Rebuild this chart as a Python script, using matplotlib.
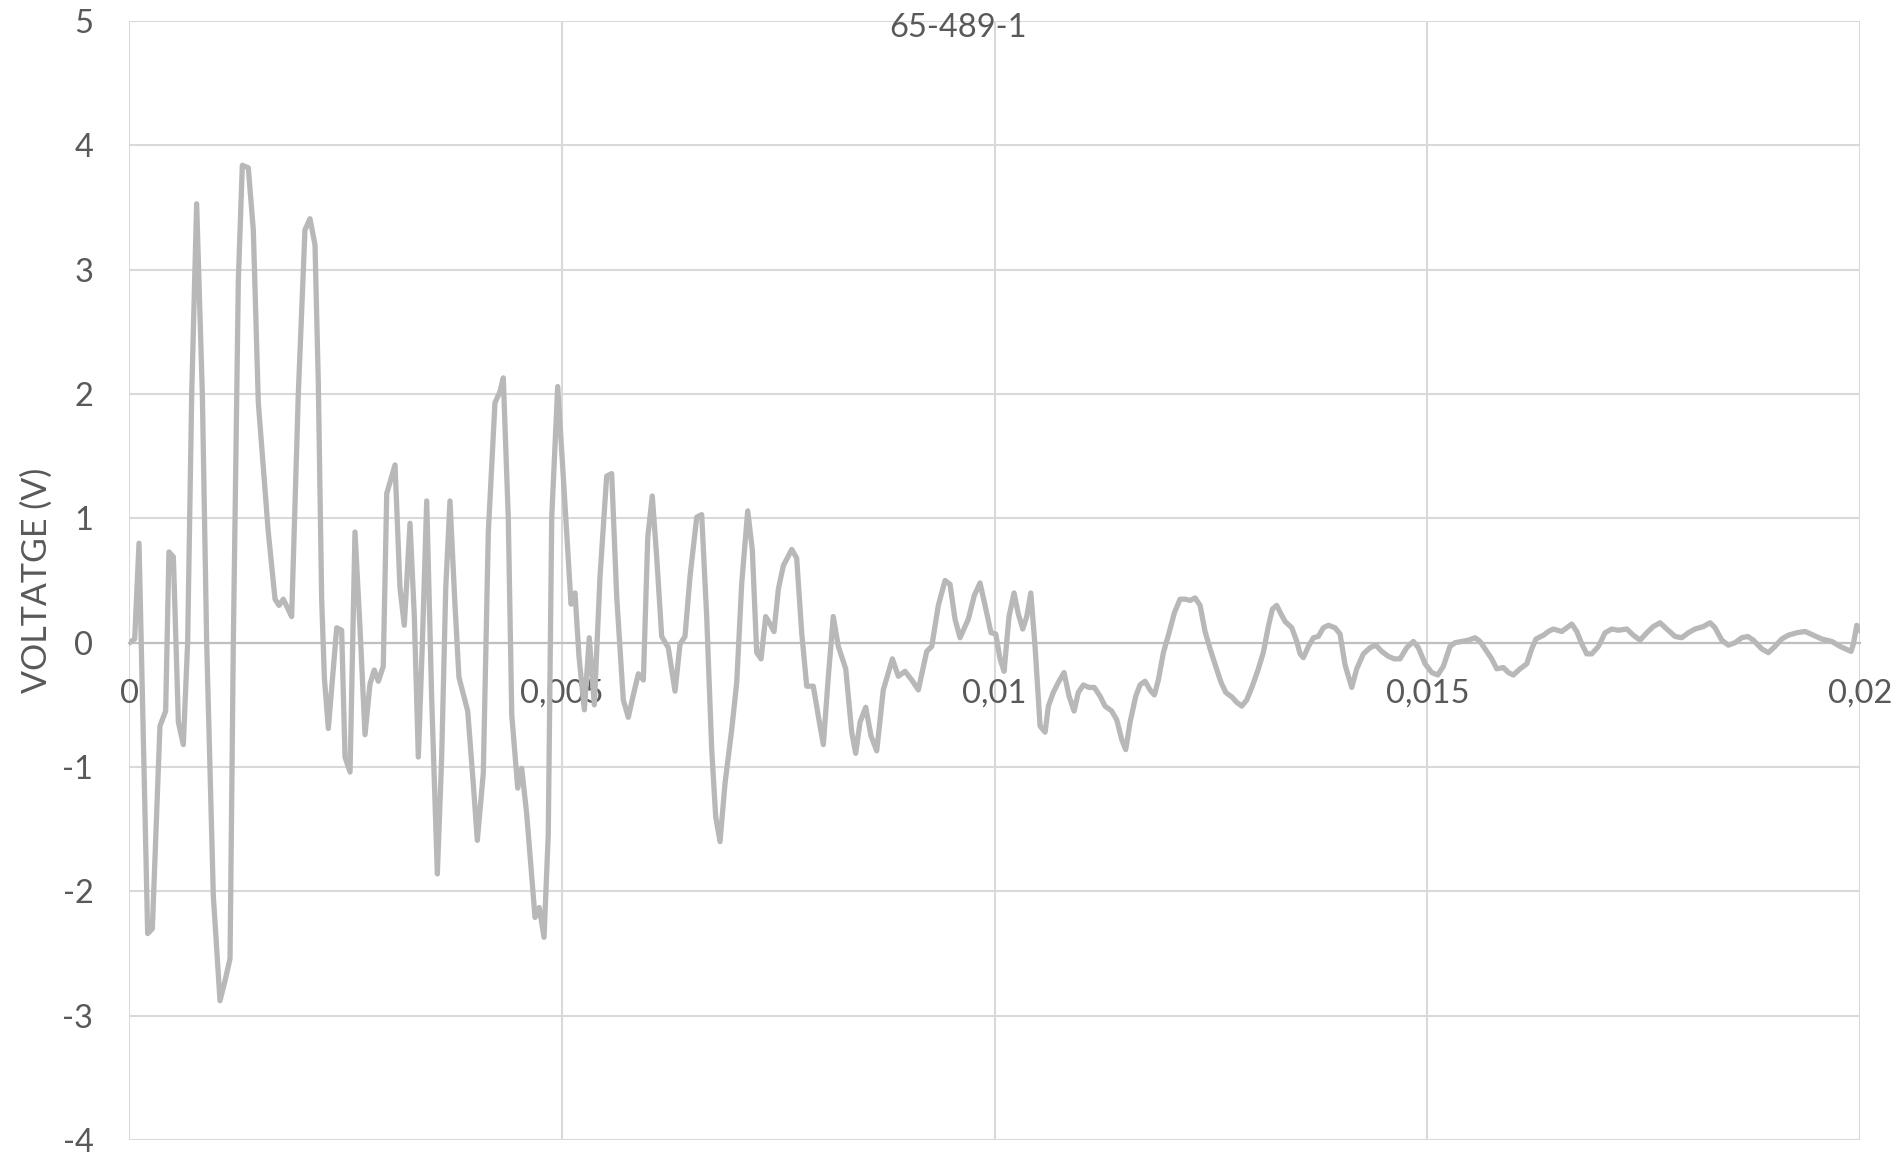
import numpy as np
import matplotlib.pyplot as plt

# tiempo en milisegundos, tension en voltios
tiempo_ms = [
    0.0, 0.06, 0.11, 0.21, 0.264, 0.352, 0.418, 0.456, 0.507, 0.565, 0.622, 0.672, 0.719, 0.776, 0.842,
    0.892, 0.969, 1.046, 1.104, 1.162, 1.2, 1.258, 1.304, 1.373, 1.431, 1.489, 1.604, 1.682, 1.728, 1.778,
    1.874, 1.951, 2.028, 2.086, 2.144, 2.182, 2.221, 2.252, 2.298, 2.395, 2.452, 2.491, 2.549, 2.606, 2.664,
    2.722, 2.78, 2.829, 2.876, 2.933, 2.973, 3.069, 3.126, 3.176, 3.242, 3.292, 3.338, 3.385, 3.435, 3.493,
    3.558, 3.608, 3.655, 3.704, 3.762, 3.808, 3.909, 3.974, 4.02, 4.089, 4.147, 4.224, 4.282, 4.32, 4.378,
    4.418, 4.487, 4.533, 4.591, 4.687, 4.736, 4.791, 4.84, 4.88, 4.949, 5.014, 5.103, 5.149, 5.195, 5.257,
    5.314, 5.372, 5.438, 5.515, 5.573, 5.631, 5.707, 5.765, 5.823, 5.881, 5.939, 5.99, 6.042, 6.093, 6.151,
    6.227, 6.305, 6.363, 6.42, 6.478, 6.556, 6.613, 6.671, 6.729, 6.775, 6.825, 6.883, 6.96, 7.018, 7.076,
    7.145, 7.198, 7.249, 7.299, 7.353, 7.403, 7.449, 7.499, 7.557, 7.654, 7.711, 7.769, 7.827, 7.903, 7.961,
    8.019, 8.077, 8.134, 8.192, 8.278, 8.347, 8.393, 8.443, 8.509, 8.57, 8.636, 8.712, 8.817, 8.886, 8.963,
    9.041, 9.117, 9.214, 9.272, 9.348, 9.426, 9.483, 9.541, 9.599, 9.695, 9.764, 9.83, 9.888, 9.957, 10.012,
    10.061, 10.108, 10.165, 10.223, 10.273, 10.324, 10.37, 10.417, 10.466, 10.524, 10.582, 10.62, 10.677,
    10.735, 10.801, 10.859, 10.917, 10.966, 11.024, 11.09, 11.151, 11.217, 11.275, 11.352, 11.41, 11.468,
    11.514, 11.564, 11.63, 11.679, 11.737, 11.795, 11.845, 11.891, 11.949, 12.015, 12.076, 12.142, 12.2,
    12.258, 12.316, 12.373, 12.431, 12.489, 12.554, 12.616, 12.67, 12.746, 12.797, 12.855, 12.913, 12.977,
    13.047, 13.104, 13.162, 13.209, 13.259, 13.309, 13.356, 13.433, 13.491, 13.529, 13.567, 13.625, 13.683,
    13.74, 13.798, 13.856, 13.933, 13.991, 14.049, 14.126, 14.184, 14.26, 14.338, 14.404, 14.473, 14.549,
    14.619, 14.684, 14.762, 14.838, 14.896, 14.974, 15.051, 15.12, 15.185, 15.262, 15.32, 15.397, 15.474,
    15.551, 15.609, 15.667, 15.744, 15.802, 15.878, 15.936, 15.994, 16.071, 16.149, 16.206, 16.256, 16.341,
    16.399, 16.456, 16.554, 16.611, 16.669, 16.727, 16.785, 16.842, 16.9, 16.977, 17.054, 17.131, 17.207,
    17.305, 17.381, 17.458, 17.536, 17.612, 17.69, 17.767, 17.863, 17.94, 18.017, 18.094, 18.19, 18.268,
    18.325, 18.403, 18.479, 18.556, 18.634, 18.703, 18.768, 18.865, 18.941, 19.018, 19.096, 19.172, 19.27,
    19.366, 19.461, 19.558, 19.674, 19.77, 19.897, 19.924, 19.963, 20.0,
]
voltaje = [
    0.0, 0.03, 0.80, -2.34, -2.30, -0.67, -0.55, 0.73, 0.69, -0.64, -0.82, 0.0, 2.0, 3.53, 2.0,
    0.0, -2.04, -2.88, -2.72, -2.54, 0.0, 2.92, 3.84, 3.82, 3.32, 1.93, 0.89, 0.35, 0.30, 0.35,
    0.21, 2.0, 3.32, 3.41, 3.2, 2.1, 0.35, -0.28, -0.69, 0.12, 0.10, -0.92, -1.04, 0.89, 0.12,
    -0.74, -0.33, -0.22, -0.31, -0.19, 1.2, 1.43, 0.44, 0.14, 0.96, 0.21, -0.92, 0.0, 1.14, -0.46,
    -1.86, -0.92, 0.44, 1.14, 0.30, -0.28, -0.55, -1.14, -1.59, -1.05, 0.89, 1.93, 2.02, 2.13, 1.0,
    -0.58, -1.17, -1.01, -1.38, -2.21, -2.13, -2.37, -1.54, 1.01, 2.06, 1.33, 0.31, 0.40, -0.11, -0.54,
    0.04, -0.50, 0.53, 1.34, 1.36, 0.37, -0.46, -0.60, -0.42, -0.25, -0.30, 0.85, 1.18, 0.69, 0.05,
    -0.04, -0.39, -0.01, 0.05, 0.53, 1.01, 1.03, 0.21, -0.86, -1.40, -1.60, -1.13, -0.70, -0.32, 0.48,
    1.06, 0.75, -0.08, -0.13, 0.21, 0.15, 0.09, 0.43, 0.62, 0.75, 0.68, 0.08, -0.35, -0.35, -0.59,
    -0.82, -0.27, 0.21, -0.03, -0.21, -0.72, -0.89, -0.64, -0.52, -0.75, -0.87, -0.38, -0.13, -0.27, -0.23,
    -0.30, -0.38, -0.07, -0.03, 0.30, 0.50, 0.47, 0.19, 0.04, 0.19, 0.38, 0.48, 0.30, 0.08, 0.07,
    -0.13, -0.23, 0.21, 0.40, 0.23, 0.11, 0.21, 0.40, -0.03, -0.67, -0.72, -0.51, -0.40,
    -0.32, -0.24, -0.43, -0.55, -0.40, -0.34, -0.36, -0.36, -0.43, -0.51, -0.55, -0.62, -0.78,
    -0.86, -0.64, -0.43, -0.34, -0.31, -0.38, -0.42, -0.30, -0.08, 0.08, 0.24, 0.35, 0.35,
    0.34, 0.36, 0.30, 0.09, -0.05, -0.19, -0.32, -0.40, -0.44, -0.48, -0.51, -0.46, -0.35,
    -0.21, -0.08, 0.13, 0.27, 0.30, 0.23, 0.17, 0.12, 0.01, -0.09, -0.12, -0.03, 0.04,
    0.05, 0.12, 0.14, 0.12, 0.07, -0.18, -0.36, -0.21, -0.09, -0.04, -0.02, -0.07, -0.11,
    -0.13, -0.13, -0.04, 0.01, -0.04, -0.17, -0.24, -0.26, -0.19, -0.03, 0.0, 0.01, 0.02,
    0.04, 0.01, -0.05, -0.13, -0.21, -0.20, -0.24, -0.26, -0.21, -0.17, -0.05, 0.03, 0.06,
    0.09, 0.11, 0.09, 0.12, 0.15, 0.09, -0.01, -0.09, -0.09, -0.03, 0.08, 0.11, 0.10,
    0.11, 0.06, 0.02, 0.08, 0.13, 0.16, 0.11, 0.05, 0.04, 0.08, 0.11, 0.13, 0.16,
    0.12, 0.02, -0.02, 0.0, 0.04, 0.05, 0.02, -0.05, -0.08, -0.03, 0.03, 0.06, 0.08,
    0.09, 0.06, 0.03, 0.01, -0.03, -0.07, -0.01, 0.14, 0.10,
]

xticks = [0, 0.005, 0.01, 0.015, 0.02]
xtick_labels = ['0', '0,005', '0,01', '0,015', '0,02']
yticks = [-4, -3, -2, -1, 0, 1, 2, 3, 4, 5]

gris_texto = '#595959'
plt.rcParams['font.family'] = ['Lato', 'DejaVu Sans']
plt.rcParams['axes.unicode_minus'] = False

fig = plt.figure(figsize=(18.96, 11.57), dpi=100)
ax = fig.add_axes([0.0683, 0.0147, 0.9127, 0.9671])

t = np.array(tiempo_ms) / 1000.0
ax.plot(t, voltaje, color='#B8B8B8', lw=3.8, solid_joinstyle='round', zorder=3)

ax.set_xlim(0, 0.02)
ax.set_ylim(-4, 5)
ax.set_xticks(xticks)
ax.set_xticklabels(xtick_labels)
ax.set_yticks(yticks)

ax.grid(True, color='#D9D9D9', lw=1.5)
ax.set_axisbelow(True)

for s in ['top', 'right', 'left']:
    ax.spines[s].set_visible(False)
ax.spines['bottom'].set_position(('data', 0))
ax.spines['bottom'].set_color('#BFBFBF')
ax.spines['bottom'].set_linewidth(1.6)

ax.tick_params(axis='both', length=0, labelsize=23.5, labelcolor=gris_texto)
ax.tick_params(axis='x', pad=26)
ax.tick_params(axis='y', pad=26)

ax.text(0.4788, 0.9937, '65-489-1', transform=ax.transAxes, ha='center', va='center',
        fontsize=23.5, color=gris_texto)
fig.text(37 / 1896, 0.4987, 'VOLTATGE (V)', rotation=90, ha='center', va='center',
         fontsize=24.5, color=gris_texto)

fig.savefig('out.png', dpi=100)
